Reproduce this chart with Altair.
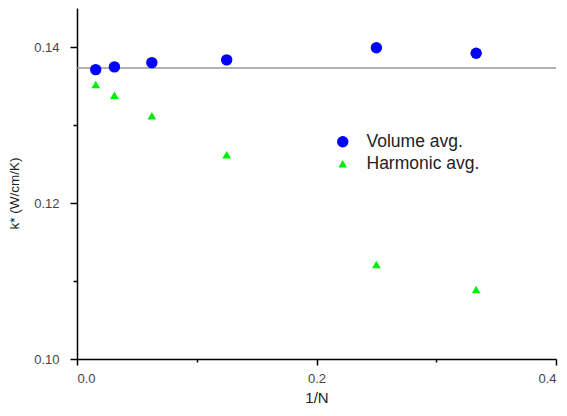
import altair as alt
import pandas as pd

# ---- data ----
inv_n = [1 / 64, 1 / 32, 1 / 16, 1 / 8, 1 / 4, 1 / 3]
volume_avg = [0.1371, 0.13745, 0.1380, 0.13835, 0.1399, 0.1392]
harmonic_avg = [0.1352, 0.1338, 0.1312, 0.1262, 0.1121, 0.1089]
series_names = ["Volume avg.", "Harmonic avg."]
ref_k = [0.1373]
ref_x = [0.0]
ref_x2 = [0.4]
x_major = [0.0, 0.2, 0.4]
x_minor = [0.1, 0.3]
y_major = [0.10, 0.12, 0.14]
y_minor = [0.11, 0.13]

rows = []
for xv, v in zip(inv_n, volume_avg):
    rows.append({"x": xv, "k": v, "series": series_names[0]})
for xv, v in zip(inv_n, harmonic_avg):
    rows.append({"x": xv, "k": v, "series": series_names[1]})
df = pd.DataFrame(rows)
ref_df = pd.DataFrame({"x": ref_x, "x2": ref_x2, "k": ref_k})

FONT = "Liberation Sans"
xscale = alt.Scale(domain=[0.0, 0.4], nice=False, zero=False)
yscale = alt.Scale(domain=[0.10, 0.145], nice=False, zero=False)

legend = alt.Legend(
    title=None,
    orient="none",
    legendX=257,
    legendY=125,
    labelFont=FONT,
    labelFontSize=17.5,
    labelColor="#222222",
    symbolSize=110,
    symbolStrokeWidth=0,
    labelOffset=15,
    rowPadding=3,
    padding=0,
)

points = alt.Chart(df).mark_point(filled=True, opacity=1).encode(
    x=alt.X(
        "x:Q",
        scale=xscale,
        axis=alt.Axis(
            values=x_major, format=".1f", title="1/N", orient="bottom",
            tickSize=6, labelPadding=7, titlePadding=5,
        ),
    ),
    y=alt.Y(
        "k:Q",
        scale=yscale,
        axis=alt.Axis(
            values=y_major, format=".2f", title="k* (W/cm/K)", orient="left",
            tickSize=7, labelPadding=11, titlePadding=12,
            titleFontSize=13.5, titleY=185,
        ),
    ),
    color=alt.Color(
        "series:N",
        scale=alt.Scale(domain=series_names, range=["#0000ff", "#00ee00"]),
        legend=legend,
    ),
    shape=alt.Shape(
        "series:N",
        scale=alt.Scale(domain=series_names, range=["circle", "triangle-up"]),
        legend=legend,
    ),
    size=alt.Size(
        "series:N",
        scale=alt.Scale(domain=series_names, range=[130, 75]),
        legend=None,
    ),
)

ref_line = alt.Chart(ref_df).mark_rule(color="#999999", strokeWidth=1.5).encode(
    x=alt.X(
        "x:Q",
        scale=xscale,
        axis=alt.Axis(
            values=x_minor, labels=False, title=None, domain=False,
            tickSize=3, orient="bottom",
        ),
    ),
    x2="x2:Q",
    y=alt.Y(
        "k:Q",
        scale=yscale,
        axis=alt.Axis(
            values=y_minor, labels=False, title=None, domain=False,
            tickSize=4, orient="left",
        ),
    ),
)

chart = (
    alt.layer(ref_line, points)
    .resolve_axis(x="independent", y="independent")
    .properties(
        width=479,
        height=351,
        autosize=alt.AutoSizeParams(type="none"),
        padding={"left": 69, "top": 0, "right": 3, "bottom": 49},
    )
    .configure_view(stroke=None)
    .configure_axis(
        grid=False,
        domainColor="#000000",
        domainWidth=1.5,
        tickColor="#000000",
        tickWidth=1.5,
        labelFont=FONT,
        labelFontSize=13,
        labelColor="#444444",
        titleFont=FONT,
        titleFontSize=15,
        titleFontWeight="normal",
        titleColor="#222222",
    )
)

chart.save("out.html", embed_options={"renderer": "svg", "actions": False})
